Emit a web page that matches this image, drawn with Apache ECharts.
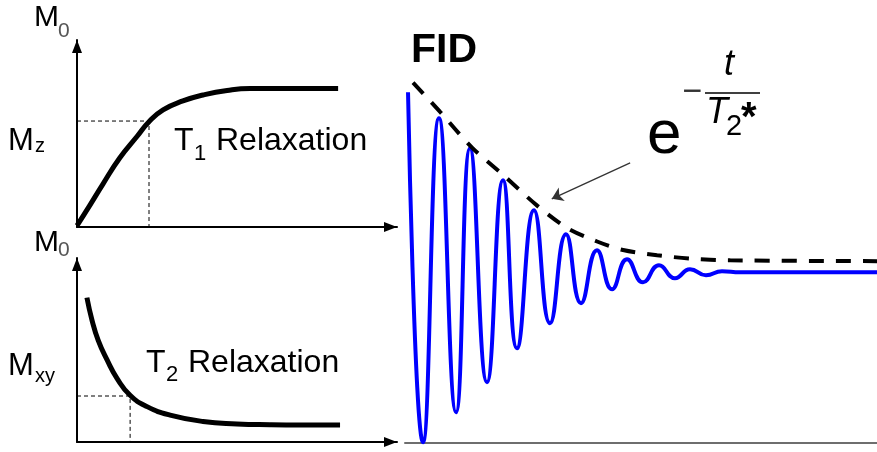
<!DOCTYPE html>
<html>
<head>
<meta charset="utf-8">
<script src="https://cdn.jsdelivr.net/npm/echarts@6/dist/echarts.min.js"></script>
<style>
  html, body { margin: 0; padding: 0; background: #ffffff; }
  #chart { width: 877px; height: 452px; }
</style>
</head>
<body>
<div id="chart"></div>
<script>
// T1 recovery: longitudinal magnetisation (fraction of M0) against time
const t1Time = [0, 0.41, 0.81, 1.34, 1.88, 2.25, 2.69, 3.31, 3.94, 4.69, 5.41, 6.03, 7.0, 8.16];
const t1Mz   = [0.01, 0.16, 0.31, 0.50, 0.655, 0.76, 0.845, 0.91, 0.953, 0.986, 1.0, 1.0, 1.0, 1.0];
const t1Mark = [2.25, 0.765];

// T2 decay: transverse magnetisation (fraction of M0) against time
const t2Time = [0.31, 0.47, 0.66, 0.94, 1.25, 1.66, 2.19, 2.91, 3.94, 5.0, 6.03, 7.0, 8.22];
const t2Mxy  = [1.02, 0.86, 0.72, 0.58, 0.45, 0.33, 0.25, 0.19, 0.145, 0.128, 0.122, 0.12, 0.12];
const t2Mark = [1.66, 0.325];

// Free induction decay: successive maxima and minima of the signal
const fidTime   = [0.64, 3.81, 7.2, 10.81, 13.77, 17.37, 20.76, 23.73, 27.33, 30.72, 34.11,
                   37.29, 40.68, 43.86, 47.03, 50.42, 53.81, 57.2, 60.38, 63.77, 67.16, 71.0, 100];
const fidSignal = [1.054, -0.995, 0.902, -0.82, 0.726, -0.644, 0.539, -0.445, 0.363, -0.299, 0.222,
                   -0.181, 0.129, -0.1, 0.076, -0.059, 0.041, -0.035, 0.018, -0.018, 0.006, 0, 0];

// T2* envelope of the FID
const envTime  = [1.7, 7.4, 14.2, 20.8, 28.0, 34.3, 40.7, 46.2, 53.4, 60.4, 68.9, 100];
const envValue = [1.11, 0.94, 0.73, 0.57, 0.39, 0.26, 0.18, 0.13, 0.10, 0.08, 0.07, 0.065];

// pointer from the formula to the envelope
const pointerFrom = [47.7, 0.64];
const pointerTo   = [31.1, 0.43];

const FONT = '"Liberation Sans", Arial, Helvetica, sans-serif';

function zip(xs, ys) { return xs.map((x, i) => [x, ys[i]]); }

function axisLineStyle(color, width, arrow) {
  return {
    show: true,
    onZero: false,
    symbol: arrow ? ['none', 'triangle'] : ['none', 'none'],
    symbolSize: [10, 13],
    symbolOffset: [0, -6.5],
    lineStyle: { color: color, width: width }
  };
}

function valueAxis(gridIndex, min, max, line) {
  return {
    type: 'value', gridIndex: gridIndex, min: min, max: max,
    axisLine: line,
    axisTick: { show: false },
    axisLabel: { show: false },
    splitLine: { show: false }
  };
}

function label(text, x, y, size, extra) {
  return {
    type: 'text', silent: true, z: 100,
    style: Object.assign({
      text: text, x: x, y: y,
      fontSize: size, fontFamily: FONT,
      fill: '#000', align: 'left', verticalAlign: 'middle'
    }, extra || {})
  };
}

const chart = echarts.init(document.getElementById('chart'), null, { renderer: 'canvas' });

chart.setOption({
  animation: false,
  backgroundColor: '#ffffff',
  grid: [
    { left: 77, top: 40, width: 320, height: 187 },
    { left: 77, top: 258, width: 320, height: 184 },
    { left: 405, top: 40, width: 472, height: 403 }
  ],
  xAxis: [
    valueAxis(0, 0, 10, axisLineStyle('#000', 2, true)),
    valueAxis(1, 0, 10, axisLineStyle('#000', 2, true)),
    valueAxis(2, 0, 100, axisLineStyle('#6e6e6e', 2, false))
  ],
  yAxis: [
    valueAxis(0, 0, 1.35, axisLineStyle('#000', 2, true)),
    valueAxis(1, 0, 1.3, axisLineStyle('#000', 2, true)),
    valueAxis(2, -1, 1.36, { show: false })
  ],
  series: [
    {
      name: 'T1', type: 'line', xAxisIndex: 0, yAxisIndex: 0,
      data: zip(t1Time, t1Mz), smooth: 0.5, symbol: 'none',
      lineStyle: { color: '#000', width: 5 }
    },
    {
      name: 'T1 mark', type: 'line', xAxisIndex: 0, yAxisIndex: 0,
      data: [[0, t1Mark[1]], [t1Mark[0], t1Mark[1]], [t1Mark[0], 0]],
      symbol: 'none', lineStyle: { color: '#000', width: 1, type: [4, 3] }
    },
    {
      name: 'T2', type: 'line', xAxisIndex: 1, yAxisIndex: 1,
      data: zip(t2Time, t2Mxy), smooth: 0.5, symbol: 'none',
      lineStyle: { color: '#000', width: 5 }
    },
    {
      name: 'T2 mark', type: 'line', xAxisIndex: 1, yAxisIndex: 1,
      data: [[0, t2Mark[1]], [t2Mark[0], t2Mark[1]], [t2Mark[0], 0]],
      symbol: 'none', lineStyle: { color: '#000', width: 1, type: [4, 3] }
    },
    {
      name: 'FID', type: 'line', xAxisIndex: 2, yAxisIndex: 2,
      data: zip(fidTime, fidSignal), smooth: true, symbol: 'none',
      lineStyle: { color: '#0000ff', width: 4 }
    },
    {
      name: 'Envelope', type: 'line', xAxisIndex: 2, yAxisIndex: 2,
      data: zip(envTime, envValue), smooth: 0.3, symbol: 'none',
      lineStyle: { color: '#000', width: 4, type: [15, 12] },
      markLine: {
        silent: true, animation: false,
        symbol: ['none', 'arrow'], symbolSize: 11,
        label: { show: false },
        lineStyle: { color: '#333', width: 1.3, type: 'solid' },
        data: [[{ coord: pointerFrom }, { coord: pointerTo }]]
      }
    }
  ],
  graphic: [
    label('M', 34, 17.6, 30),
    label('0', 58, 31, 21, { fill: '#555' }),
    label('M', 8, 141.6, 31),
    label('z', 35, 146.5, 20),
    label('M', 34, 242.6, 30),
    label('0', 58, 250, 21, { fill: '#555' }),
    label('M', 8, 366.6, 31),
    label('xy', 35, 376.5, 20),

    label('T', 174, 141, 32),
    label('1', 194, 154.4, 22),
    label('Relaxation', 216, 141, 32),

    label('T', 146, 363, 32),
    label('2', 166, 375.4, 22),
    label('Relaxation', 188, 363, 32),

    label('FID', 411, 50.8, 41, { fontWeight: 'bold' }),

    label('e', 647, 135.5, 62),
    label('\u2212', 692.5, 92.7, 34, { align: 'center', fill: '#333' }),
    {
      type: 'line', silent: true, z: 100,
      shape: { x1: 705, y1: 93, x2: 760, y2: 93 },
      style: { stroke: '#000', lineWidth: 1.5 }
    },
    label('t', 724, 64.5, 36, { fontStyle: 'italic' }),
    label('T', 706, 112.5, 36, { fontStyle: 'italic' }),
    label('2', 726, 127, 29),
    label('*', 741, 118.7, 40, { fontWeight: 'bold' })
  ]
});
</script>
</body>
</html>
